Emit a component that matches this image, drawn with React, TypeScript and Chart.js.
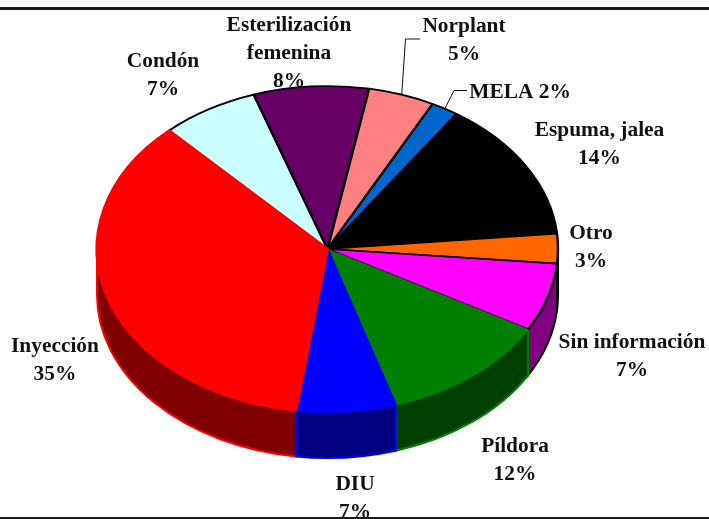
import React, { useEffect, useRef } from "react";
import { Chart, registerables } from "chart.js";

Chart.register(...registerables);

const categories = ["Condón", "Esterilización femenina", "Norplant", "MELA", "Espuma, jalea", "Otro", "Sin información", "Píldora", "DIU", "Inyección"];
const values = [6.8, 8.0, 4.6, 1.9, 13.9, 2.9, 6.7, 11.9, 6.9, 35.4];
const faceColors = ["#CCFFFF", "#660066", "#FF8080", "#0066CC", "#000000", "#FF6600", "#FF00FF", "#008000", "#0000FF", "#FF0000"];
const sideColors = ["#668080", "#330033", "#804040", "#003366", "#000000", "#803300", "#800080", "#004000", "#000080", "#800000"];
const edgeColors = ["#000000", "#000000", "#000000", "#000000", "#000000", "#000000", "#000000", "#008000", "#0000FF", "#FF0000"];
const edgeWidths = [2.4, 2.4, 2.4, 2.4, 2.4, 2.4, 2.4, 1.2, 2.4, 3];

type Label = { lines: string[]; x: number; y: number };
const labels: Label[] = [
  { lines: ["Condón", "7%"], x: 163, y: 67 },
  { lines: ["Esterilización", "femenina", "8%"], x: 289, y: 31 },
  { lines: ["Norplant", "5%"], x: 464, y: 32 },
  { lines: ["MELA 2%"], x: 520, y: 98 },
  { lines: ["Espuma, jalea", "14%"], x: 599.5, y: 136 },
  { lines: ["Otro", "3%"], x: 591, y: 239 },
  { lines: ["Sin información", "7%"], x: 632, y: 348 },
  { lines: ["Píldora", "12%"], x: 515, y: 452 },
  { lines: ["DIU", "7%"], x: 355, y: 490 },
  { lines: ["Inyección", "35%"], x: 55, y: 352 },
];
const leaders: { index: number; elbow: [number, number]; end: [number, number] }[] = [
  { index: 2, elbow: [405.5, 39], end: [420, 39] },
  { index: 3, elbow: [454, 90.5], end: [467, 90.5] },
];

const CX = 327.5;
const CY = 249;
const RX = 230.5;
const RY = 163;
const DEPTH = 46;
const LINE_HEIGHT = 28;

function visibleRanges(a0: number, a1: number) {
  const out: [number, number][] = [];
  for (let k = -2; k <= 3; k++) {
    const lo = Math.max(a0, 2 * Math.PI * k);
    const hi = Math.min(a1, 2 * Math.PI * k + Math.PI);
    if (hi > lo) out.push([lo, hi]);
  }
  return out;
}

const pie3d = {
  id: "pie3d",
  beforeDatasetsDraw(chart: any) {
    const ctx: CanvasRenderingContext2D = chart.ctx;
    const arcs = chart.getDatasetMeta(0).data;

    // frame
    ctx.save();
    ctx.fillStyle = "#1a1a1a";
    ctx.fillRect(0, 7, chart.width, 3);
    ctx.restore();

    // labels sit under the pie
    ctx.save();
    ctx.font = "bold 21.4px 'Liberation Serif'";
    ctx.fillStyle = "#111111";
    ctx.textAlign = "center";
    ctx.textBaseline = "alphabetic";
    labels.forEach((l) => l.lines.forEach((t, i) => ctx.fillText(t, l.x, l.y + i * LINE_HEIGHT)));
    ctx.restore();

    // leaders
    ctx.save();
    ctx.strokeStyle = "#111111";
    ctx.lineWidth = 1;
    leaders.forEach((l) => {
      const a = arcs[l.index];
      const mid = (a.startAngle + a.endAngle) / 2;
      ctx.beginPath();
      ctx.moveTo(CX + RX * Math.cos(mid), CY + RY * Math.sin(mid));
      ctx.lineTo(l.elbow[0], l.elbow[1]);
      ctx.lineTo(l.end[0], l.end[1]);
      ctx.stroke();
    });
    ctx.restore();

    // side walls, back to front
    const walls: { i: number; lo: number; hi: number; key: number }[] = [];
    arcs.forEach((a: any, i: number) => {
      visibleRanges(a.startAngle, a.endAngle).forEach(([lo, hi]) => {
        walls.push({ i, lo, hi, key: Math.sin((lo + hi) / 2) });
      });
    });
    walls.sort((p, q) => p.key - q.key);
    ctx.save();
    ctx.lineWidth = 2;
    walls.forEach((w) => {
      ctx.beginPath();
      ctx.ellipse(CX, CY, RX, RY, 0, w.lo, w.hi);
      ctx.ellipse(CX, CY + DEPTH, RX, RY, 0, w.hi, w.lo, true);
      ctx.closePath();
      ctx.fillStyle = sideColors[w.i];
      ctx.fill();
      ctx.strokeStyle = edgeColors[w.i];
      ctx.stroke();
    });
    ctx.restore();

    // squash the library's circular arcs onto the top face
    const a0 = arcs[0];
    ctx.save();
    ctx.translate(CX, CY);
    ctx.scale(RX / a0.outerRadius, RY / a0.outerRadius);
    ctx.translate(-a0.x, -a0.y);
  },
  afterDatasetsDraw(chart: any) {
    const ctx: CanvasRenderingContext2D = chart.ctx;
    ctx.restore();
    ctx.save();
    ctx.fillStyle = "#1a1a1a";
    ctx.fillRect(0, 517, chart.width, 2);
    ctx.restore();
  },
};

export default function App() {
  const ref = useRef<HTMLCanvasElement | null>(null);
  useEffect(() => {
    const chart = new Chart(ref.current!, {
      type: "pie",
      data: {
        labels: categories,
        datasets: [
          {
            data: values,
            backgroundColor: faceColors,
            borderColor: edgeColors,
            borderWidth: edgeWidths,
            borderJoinStyle: "bevel",
            clip: false,
          } as any,
        ],
      },
      options: {
        responsive: false,
        animation: false,
        events: [],
        rotation: 316.6,
        layout: { padding: { left: 96, right: 151, top: 28, bottom: 29 } },
        plugins: { legend: { display: false }, tooltip: { enabled: false } },
      },
      plugins: [pie3d],
    });
    return () => chart.destroy();
  }, []);
  return (
    <div style={{ position: "fixed", left: 0, top: 0, width: 709, height: 519, background: "#fff" }}>
      <canvas ref={ref} width={709} height={519} style={{ display: "block" }} />
    </div>
  );
}
